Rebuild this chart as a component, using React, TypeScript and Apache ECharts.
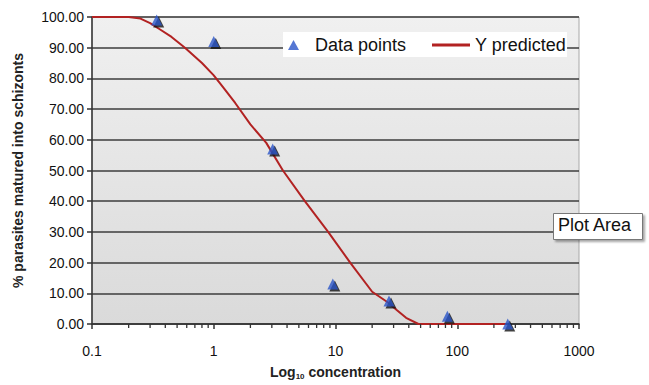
import React, { useEffect, useRef } from "react";
import * as echarts from "echarts";

const dataX = [0.34, 1.0, 3.05, 9.5, 27.5, 83, 260];
const dataY = [99, 92, 57, 13, 7.5, 2.5, 0];

const predX = [0.1, 0.2, 0.25, 0.3, 0.36, 0.45, 0.58, 0.8, 1, 1.2, 1.5, 2, 2.7, 3.7, 5.6, 8.7, 13.2, 20, 27, 32, 38, 48, 100, 250];
const predY = [100, 100, 99.5, 98, 96, 93.5, 90, 85, 81, 77, 72, 65, 59, 50, 40, 30, 20, 10.5, 7, 4.5, 2, 0, 0, 0];

const minorTicks = [
  0.2, 0.3, 0.4, 0.5, 0.6, 0.7, 0.8, 0.9,
  2, 3, 4, 5, 6, 7, 8, 9,
  20, 30, 40, 50, 60, 70, 80, 90,
  200, 300, 400, 500, 600, 700, 800, 900,
];

const legendNames = ["Data points", "Y predicted"];

export default function App() {
  const ref = useRef<HTMLDivElement>(null);
  useEffect(() => {
    if (!ref.current) return;
    const chart = echarts.init(ref.current, null, { renderer: "svg" });
    const font = "Arial, 'Liberation Sans', sans-serif";
    const legendText = { fontSize: 18, color: "#111", fontFamily: font };
    chart.setOption({
      animation: false,
      textStyle: { fontFamily: font },
      grid: {
        left: 92,
        right: 70,
        top: 17,
        bottom: 58,
        show: true,
        borderColor: "#a8a8a8",
        borderWidth: 1,
        backgroundColor: new echarts.graphic.LinearGradient(0, 0, 0, 1, [
          { offset: 0, color: "#f0f0f0" },
          { offset: 1, color: "#dadada" },
        ]),
      },
      legend: [
        {
          data: [{ name: legendNames[0], icon: "triangle" }],
          left: 283,
          top: 32,
          padding: [4, 14, 3, 5],
          itemWidth: 11,
          itemHeight: 10,
          backgroundColor: "#ffffff",
          textStyle: { ...legendText, padding: [0, 0, 0, 11] },
        },
        {
          data: [{ name: legendNames[1], icon: "rect" }],
          left: 420,
          top: 32,
          padding: [4, 1, 3, 12],
          itemWidth: 38,
          itemHeight: 3,
          backgroundColor: "#ffffff",
          textStyle: legendText,
        },
      ],
      xAxis: {
        type: "log",
        logBase: 10,
        min: 0.1,
        max: 1000,
        name: "{a|Log}{b|10}{a| concentration}",
        nameLocation: "middle",
        nameGap: 40,
        nameTextStyle: {
          rich: {
            a: { fontSize: 14, fontWeight: "bold", color: "#222", fontFamily: font },
            b: { fontSize: 8, fontWeight: "bold", color: "#222", fontFamily: font, padding: [8, 0, 0, 0] },
          },
        },
        axisLine: { show: true, onZero: false, lineStyle: { color: "#333", width: 1.5 } },
        axisTick: { show: true, length: 5, lineStyle: { color: "#333", width: 1.5 } },
        axisLabel: {
          fontSize: 14,
          color: "#111",
          margin: 20,
          formatter: (v: number) => String(Number(v.toPrecision(6))),
        },
        splitLine: { show: false },
      },
      yAxis: {
        type: "value",
        min: 0,
        max: 100,
        interval: 10,
        name: "% parasites matured into schizonts",
        nameLocation: "middle",
        nameGap: 67,
        nameTextStyle: { fontSize: 14, fontWeight: "bold", color: "#222", fontFamily: font },
        axisLine: { show: true, lineStyle: { color: "#333", width: 1.5 } },
        axisTick: { show: true, length: 5, lineStyle: { color: "#333", width: 1.5 } },
        axisLabel: {
          fontSize: 14,
          color: "#111",
          margin: 8,
          formatter: (v: number) => v.toFixed(2),
        },
        splitLine: { show: true, lineStyle: { color: "#3c3c3c", width: 1.6 } },
      },
      series: [
        {
          name: legendNames[1],
          type: "line",
          data: predX.map((x, i) => [x, predY[i]]),
          symbol: "none",
          lineStyle: { color: "#b22222", width: 2 },
          itemStyle: { color: "#b22222" },
          z: 3,
        },
        {
          name: "shadow",
          type: "scatter",
          data: dataX.map((x, i) => [x, dataY[i]]),
          symbol: "triangle",
          symbolSize: 11,
          symbolOffset: [2, 2],
          itemStyle: { color: "#111" },
          z: 4,
          silent: true,
        },
        {
          name: legendNames[0],
          type: "scatter",
          data: dataX.map((x, i) => [x, dataY[i]]),
          symbol: "triangle",
          symbolSize: 11,
          itemStyle: { color: "#2b55c8" },
          z: 5,
        },
        {
          name: "minor",
          type: "custom",
          silent: true,
          data: minorTicks.map((x) => [x, 0]),
          renderItem: (params: any, api: any) => {
            const p = api.coord([api.value(0), 0]);
            return {
              type: "line",
              shape: { x1: p[0], y1: p[1], x2: p[0], y2: p[1] + 4 },
              style: { stroke: "#333", lineWidth: 1.3 },
            };
          },
          z: 6,
        },
      ],
      graphic: [
        {
          type: "rect",
          left: 553,
          top: 213,
          shape: { x: 0, y: 0, width: 89, height: 26 },
          style: {
            fill: "#ffffff",
            stroke: "#777",
            lineWidth: 1,
            shadowColor: "rgba(0,0,0,0.35)",
            shadowBlur: 2,
            shadowOffsetX: 2,
            shadowOffsetY: 2,
          },
          z: 10,
        },
        {
          type: "text",
          left: 558,
          top: 216,
          style: {
            text: "Plot Area",
            fontSize: 18,
            fontFamily: font,
            fill: "#111",
          },
          z: 11,
        },
      ],
    });
    return () => chart.dispose();
  }, []);
  return <div ref={ref} style={{ width: 649, height: 385, position: "absolute", left: 0, top: 0 }} />;
}
